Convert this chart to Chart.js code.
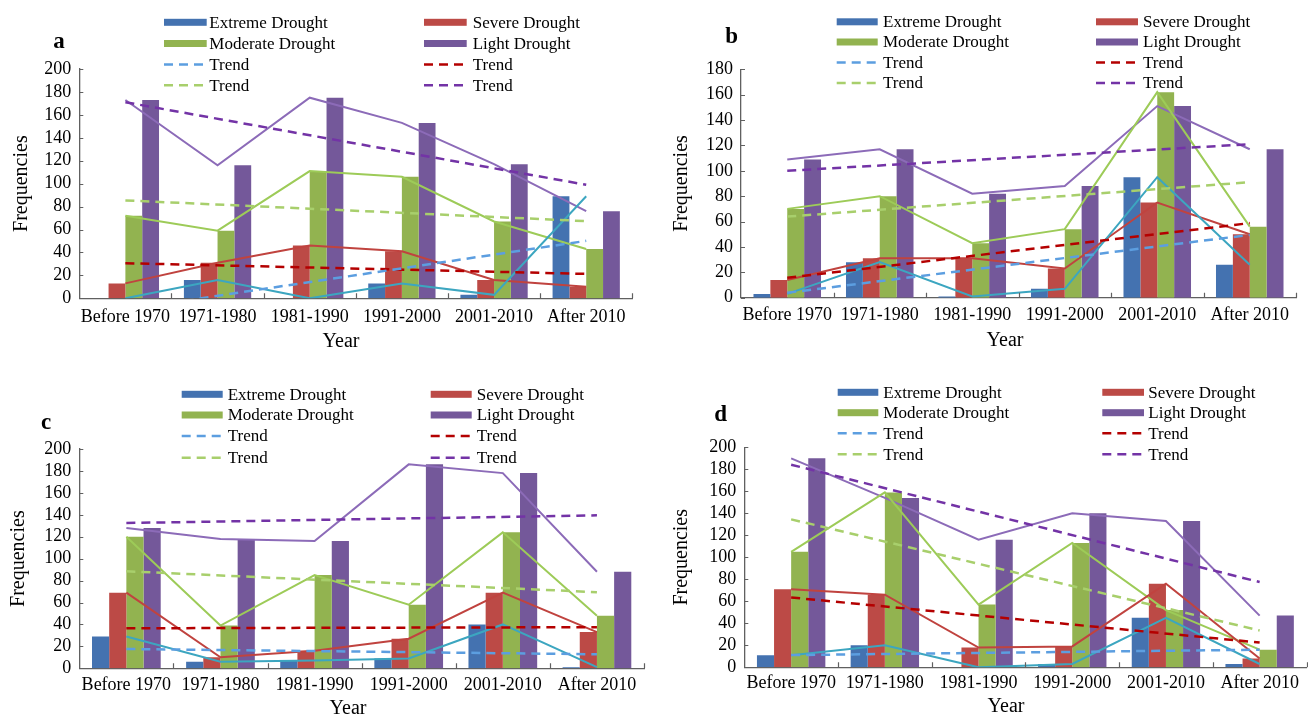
<!DOCTYPE html>
<html>
<head>
<meta charset="utf-8">
<script src="https://cdn.jsdelivr.net/npm/chart.js@4.4.1/dist/chart.umd.min.js"></script>
<style>
html,body{margin:0;padding:0;background:#fff;width:1308px;height:716px;overflow:hidden}
.p{position:absolute;width:654px;height:358px}
canvas{display:block}
</style>
</head>
<body>
<div class="p" style="left:0;top:0"><canvas id="ca"></canvas></div>
<div class="p" style="left:654px;top:0"><canvas id="cb"></canvas></div>
<div class="p" style="left:0;top:358px"><canvas id="cc"></canvas></div>
<div class="p" style="left:654px;top:358px"><canvas id="cd"></canvas></div>
<script>
// ---------- DATA ----------
const categories = ['Before 1970', '1971-1980', '1981-1990', '1991-2000', '2001-2010', 'After 2010'];
const seriesNames = ['Extreme Drought', 'Severe Drought', 'Moderate Drought', 'Light Drought'];
const trendLabel = 'Trend';
const yTicksA = [0, 200];
const yTicksB = [0, 180];

// Panel a
const aExtreme  = [0, 16, 0, 13, 3, 89];
const aSevere   = [13, 31, 46, 41, 16, 10];
const aModerate = [72, 59, 111, 106, 67, 43];
const aLight    = [173, 116, 175, 153, 117, 76];
const aTrendExtreme  = [-9.8, 50.1];   // [first category, last category]
const aTrendSevere   = [30.6, 21.3];
const aTrendModerate = [85.4, 67.3];
const aTrendLight    = [171, 99];

// Panel b
const bExtreme  = [3, 28, 1, 7, 95, 26];
const bSevere   = [14, 31, 31, 23, 75, 50];
const bModerate = [70, 80, 43, 54, 162, 56];
const bLight    = [109, 117, 82, 88, 151, 117];
const bTrendExtreme  = [3.9, 49.5];
const bTrendSevere   = [15.7, 58.8];
const bTrendModerate = [63.9, 91];
const bTrendLight    = [100, 121];

// Panel c
const cExtreme  = [29, 6, 7, 9, 40, 1];
const cSevere   = [69, 10, 16, 27, 69, 33];
const cModerate = [120, 39, 85, 58, 124, 48];
const cLight    = [128, 118, 116, 186, 178, 88];
const cTrendExtreme  = [17.6, 12.8];
const cTrendSevere   = [36.5, 37.5];
const cTrendModerate = [88.5, 69.4];
const cTrendLight    = [132.5, 139.5];

// Panel d
const dExtreme  = [11, 20, 0, 3, 45, 3];
const dSevere   = [71, 66, 18, 19, 76, 8];
const dModerate = [105, 159, 57, 113, 52, 16];
const dLight    = [190, 154, 116, 140, 133, 47];
const dTrendExtreme  = [11.1, 16];
const dTrendSevere   = [63.5, 22.5];
const dTrendModerate = [134.5, 33.5];
const dTrendLight    = [184.2, 77.5];

// ---------- STYLE ----------
const FONT = '"Liberation Serif", "Times New Roman", serif';
const barColors   = ['#4472B0', '#BC4A46', '#92B350', '#74589A'];
const lineColors  = ['#3CA6C0', '#C0433F', '#9DCB58', '#8C6BB8'];
const trendColors = ['#5C9EE0', '#B40000', '#A8CF6C', '#7333A6'];
const AXIS = '#606060';

function trendSeries(ends) {
  const arr = categories.map(() => null);
  arr[0] = ends[0];
  arr[arr.length - 1] = ends[1];
  return arr;
}

const decorPlugin = {
  id: 'decor',
  afterDraw(chart, args, o) {
    const ctx = chart.ctx;
    const xs = chart.scales.x, ys = chart.scales.y;
    const ca = chart.chartArea;
    ctx.save();
    // inside tick marks
    ctx.strokeStyle = AXIS;
    ctx.lineWidth = 1.2;
    ctx.beginPath();
    for (let v = ys.min; v <= ys.max + 0.001; v += 20) {
      const y = Math.round(ys.getPixelForValue(v)) + 0.5;
      ctx.moveTo(ca.left, y); ctx.lineTo(ca.left + 4, y);
    }
    for (let i = 1; i <= categories.length; i++) {
      const x = Math.round(xs.getPixelForValue(i - 0.5)) + 0.5;
      ctx.moveTo(x, ca.bottom); ctx.lineTo(x, ca.bottom - 5);
    }
    ctx.stroke();
    // panel letter
    ctx.fillStyle = '#000';
    ctx.textAlign = 'center';
    ctx.textBaseline = 'middle';
    ctx.font = 'bold 23px ' + FONT;
    ctx.fillText(o.letter, o.letterX, o.letterY);
    // x title
    ctx.font = '20px ' + FONT;
    ctx.fillText('Year', o.yearX, o.yearY);
    // legend
    const L = o.legend;
    const items = [];
    for (let k = 0; k < 4; k++) items.push({label: seriesNames[k], type: 'bar', color: barColors[k]});
    for (let k = 0; k < 4; k++) items.push({label: trendLabel, type: 'dash', color: trendColors[k]});
    ctx.font = '17px ' + FONT;
    ctx.textAlign = 'left';
    items.forEach((it, idx) => {
      const col = idx % 2, row = Math.floor(idx / 2);
      const box = col === 0 ? L.c1Box : L.c2Box;
      const tx = col === 0 ? L.c1Text : L.c2Text;
      const y = L.rows[row];
      if (it.type === 'bar') {
        ctx.fillStyle = it.color;
        ctx.fillRect(box[0], y - 3.5, box[1] - box[0], 7);
      } else {
        ctx.strokeStyle = it.color;
        ctx.lineWidth = 2.5;
        ctx.setLineDash([9, 6]);
        ctx.beginPath();
        ctx.moveTo(box[0], y); ctx.lineTo(box[1], y);
        ctx.stroke();
        ctx.setLineDash([]);
      }
      ctx.fillStyle = '#000';
      ctx.fillText(it.label, tx, y + 1);
    });
    ctx.restore();
  }
};

function makeChart(id, series, trends, yRange, g) {
  const datasets = [];
  series.forEach((s, k) => {
    datasets.push({
      type: 'bar', label: seriesNames[k], data: s,
      backgroundColor: barColors[k], borderWidth: 0,
      categoryPercentage: 0.73, barPercentage: 1.0, order: 2
    });
  });
  series.forEach((s, k) => {
    datasets.push({
      type: 'line', label: seriesNames[k] + ' line', data: s,
      borderColor: lineColors[k], borderWidth: 2, pointRadius: 0,
      tension: 0, fill: false, order: 1
    });
  });
  trends.forEach((t, k) => {
    datasets.push({
      type: 'line', label: trendLabel, data: trendSeries(t),
      borderColor: trendColors[k], borderWidth: 2.5, borderDash: [9, 6],
      pointRadius: 0, spanGaps: true, tension: 0, fill: false, order: 0
    });
  });
  return new Chart(document.getElementById(id), {
    data: {labels: categories, datasets},
    plugins: [decorPlugin],
    options: {
      responsive: true, maintainAspectRatio: false, animation: false,
      events: [],
      layout: {padding: {left: 0, top: g.padTop, right: g.padRight, bottom: 0}},
      plugins: {
        legend: {display: false}, tooltip: {enabled: false},
        decor: g.decor
      },
      scales: {
        x: {
          ticks: {color: '#000', font: {family: FONT, size: 18}, padding: g.xpad, maxRotation: 0, autoSkip: false},
          grid: {display: false, drawTicks: false, offset: true},
          border: {display: true, color: AXIS, width: 1.3},
          afterFit: s => { s.height = g.xh; }
        },
        y: {
          min: yRange[0], max: yRange[1],
          ticks: {stepSize: 20, autoSkip: false, color: '#000', font: {family: FONT, size: 18}, padding: 8},
          grid: {display: false, drawTicks: false},
          border: {display: true, color: AXIS, width: 1.3},
          title: {display: true, text: 'Frequencies', color: '#000', font: {family: FONT, size: 20}, padding: {top: g.ytp, bottom: 0}},
          afterFit: s => { s.width = g.yw; }
        }
      }
    }
  });
}

makeChart('ca', [aExtreme, aSevere, aModerate, aLight],
  [aTrendExtreme, aTrendSevere, aTrendModerate, aTrendLight], yTicksA,
  {yw: 79.3, padTop: 69, padRight: 21.7, xh: 59.7, xpad: 8, ytp: 10,
   decor: {letter: 'a', letterX: 59, letterY: 42, yearX: 341, yearY: 342,
     legend: {c1Box: [164, 206.7], c1Text: 209.3, c2Box: [424, 466.7], c2Text: 472.7, rows: [22.3, 43.5, 64.5, 85.3]}}});

makeChart('cb', [bExtreme, bSevere, bModerate, bLight],
  [bTrendExtreme, bTrendSevere, bTrendModerate, bTrendLight], yTicksB,
  {yw: 87, padTop: 69.3, padRight: 12, xh: 60.3, xpad: 6.5, ytp: 16,
   decor: {letter: 'b', letterX: 77.7, letterY: 36.7, yearX: 351, yearY: 341,
     legend: {c1Box: [182.7, 223.7], c1Text: 229, c2Box: [442, 484], c2Text: 489, rows: [21.8, 42, 62.5, 83]}}});

makeChart('cc', [cExtreme, cSevere, cModerate, cLight],
  [cTrendExtreme, cTrendSevere, cTrendModerate, cTrendLight], yTicksA,
  {yw: 79.3, padTop: 91, padRight: 10, xh: 47.7, xpad: 6, ytp: 6.3,
   decor: {letter: 'c', letterX: 46, letterY: 65.3, yearX: 348, yearY: 351,
     legend: {c1Box: [181.7, 222.7], c1Text: 227.7, c2Box: [430.7, 471.7], c2Text: 476.7, rows: [36.3, 57, 78, 99.7]}}});

makeChart('cd', [dExtreme, dSevere, dModerate, dLight],
  [dTrendExtreme, dTrendSevere, dTrendModerate, dTrendLight], yTicksA,
  {yw: 90.3, padTop: 89.3, padRight: 1.5, xh: 48.7, xpad: 5, ytp: 15.7,
   decor: {letter: 'd', letterX: 66.7, letterY: 57, yearX: 352, yearY: 348.7,
     legend: {c1Box: [183.7, 224.3], c1Text: 229.3, c2Box: [448.3, 490], c2Text: 494.3, rows: [34.3, 54.7, 75.3, 96.3]}}});
</script>
</body>
</html>
